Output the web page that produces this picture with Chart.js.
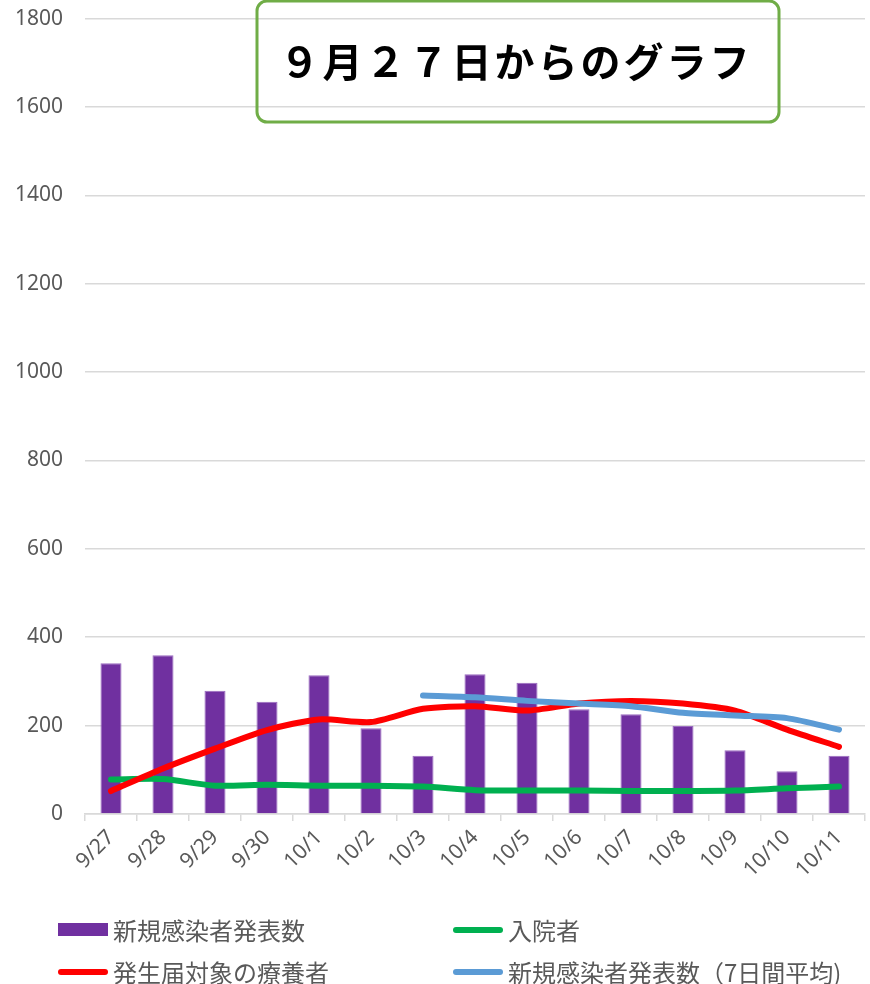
<!DOCTYPE html>
<html lang="ja">
<head>
<meta charset="utf-8">
<title>9月27日からのグラフ</title>
<script src="https://cdn.jsdelivr.net/npm/chart.js@4.4.1/dist/chart.umd.min.js"></script>
<style>
  html, body { margin: 0; padding: 0; background: #fff; }
  #wrap { position: relative; width: 870px; height: 984px; overflow: hidden; }
  #legend { position: absolute; left: 0; top: 0; width: 870px; height: 984px; pointer-events: none;
    font-family: "Noto Sans CJK JP", "Noto Sans", sans-serif; font-size: 24px; color: #595959; }
  .item { position: absolute; display: flex; align-items: center; white-space: nowrap; }
  .swatch { width: 50px; margin-right: 5px; }
</style>
</head>
<body>
<div id="wrap">
  <canvas id="chart" width="870" height="984"></canvas>
  <div id="legend"></div>
</div>
<script>
// chart data
const dates = ['9/27', '9/28', '9/29', '9/30', '10/1', '10/2', '10/3', '10/4', '10/5', '10/6', '10/7', '10/8', '10/9', '10/10', '10/11'];
const newCases = [341, 359, 279, 254, 314, 194, 132, 316, 297, 237, 226, 199, 144, 97, 132];
const hospitalized = [78, 79, 64, 66, 64, 64, 62, 54, 53, 53, 52, 52, 53, 58, 62];
const patients = [52, 103, 148, 190, 214, 208, 238, 244, 234, 250, 256, 250, 234, 191, 152];
const weeklyAvg = [null, null, null, null, null, null, 268, 264, 256, 250, 244, 229, 223, 217, 191];
const yTicks = [0, 200, 400, 600, 800, 1000, 1200, 1400, 1600, 1800];
const titleText = '９月２７日からのグラフ';

// title box drawn over the plot (gridlines show through)
const titleBox = {
  id: 'titleBox',
  afterDraw(chart) {
    const ctx = chart.ctx;
    ctx.save();
    ctx.strokeStyle = '#70AD47';
    ctx.lineWidth = 3;
    ctx.beginPath();
    ctx.roundRect(257, 1, 522, 121, 10);
    ctx.stroke();
    ctx.fillStyle = '#000';
    ctx.font = 'bold 40px "Noto Sans CJK JP", sans-serif';
    ctx.textAlign = 'center';
    ctx.textBaseline = 'middle';
    ctx.letterSpacing = '3px';
    ctx.fillText(titleText, 516, 62);
    ctx.restore();
  }
};

const ctx = document.getElementById('chart').getContext('2d');
const chart = new Chart(ctx, {
  data: {
    labels: dates,
    datasets: [
      {
        type: 'bar',
        label: '新規感染者発表数',
        data: newCases,
        backgroundColor: '#7030A0',
        borderColor: '#9A6BC0',
        borderWidth: 1,
        barPercentage: 0.81,
        categoryPercentage: 0.5,
        order: 4
      },
      {
        type: 'line',
        label: '入院者',
        data: hospitalized,
        borderColor: '#00B050',
        borderWidth: 6,
        pointRadius: 0,
        tension: 0.25,
        borderCapStyle: 'round',
        borderJoinStyle: 'round',
        order: 3
      },
      {
        type: 'line',
        label: '発生届対象の療養者',
        data: patients,
        borderColor: '#FF0000',
        borderWidth: 6,
        pointRadius: 0,
        tension: 0.25,
        borderCapStyle: 'round',
        borderJoinStyle: 'round',
        order: 2
      },
      {
        type: 'line',
        label: '新規感染者発表数（7日間平均)',
        data: weeklyAvg,
        borderColor: '#5B9BD5',
        borderWidth: 6,
        pointRadius: 0,
        tension: 0.25,
        borderCapStyle: 'round',
        borderJoinStyle: 'round',
        order: 1
      }
    ]
  },
  options: {
    responsive: false,
    animation: false,
    layout: { padding: { left: 0, right: 5, top: 18, bottom: 80 } },
    plugins: {
      legend: { display: false },
      tooltip: { enabled: false }
    },
    scales: {
      x: {
        offset: true,
        grid: {
          offset: true,
          drawOnChartArea: false,
          drawTicks: true,
          tickLength: 7,
          color: '#D9D9D9',
          lineWidth: 1.5
        },
        border: { display: true, color: '#D9D9D9', width: 1.5 },
        ticks: {
          color: '#595959',
          font: { family: '"Noto Sans", sans-serif', size: 21 },
          maxRotation: 45,
          minRotation: 45,
          padding: 4
        },
        afterFit(scale) { scale.height = 90; }
      },
      y: {
        min: 0,
        max: 1800,
        afterBuildTicks(scale) { scale.ticks = yTicks.map(v => ({ value: v })); },
        // invisible tick marks push the labels left without adding top padding
        grid: { color: '#D9D9D9', lineWidth: 1.5, drawTicks: true, tickLength: 16, tickColor: 'rgba(0,0,0,0)' },
        border: { display: false },
        ticks: {
          color: '#595959',
          font: { family: '"Noto Sans", sans-serif', size: 21 },
          padding: 6,
          callback: (value) => String(value)
        },
        afterFit(scale) { scale.width = 85; }
      }
    }
  },
  plugins: [titleBox]
});

// legend built from the datasets, laid out in two columns
const legendPos = [
  { left: 58, top: 912 },
  { left: 453, top: 912 },
  { left: 58, top: 954 },
  { left: 453, top: 954 }
];
const legendEl = document.getElementById('legend');
chart.data.datasets.forEach((ds, i) => {
  const item = document.createElement('div');
  item.className = 'item';
  item.style.left = legendPos[i].left + 'px';
  item.style.top = legendPos[i].top + 'px';
  const sw = document.createElement('span');
  sw.className = 'swatch';
  if (ds.type === 'bar') {
    sw.style.height = '13px';
    sw.style.background = ds.backgroundColor;
  } else {
    sw.style.height = '6px';
    sw.style.borderRadius = '3px';
    sw.style.background = ds.borderColor;
  }
  const txt = document.createElement('span');
  txt.textContent = ds.label;
  item.appendChild(sw);
  item.appendChild(txt);
  legendEl.appendChild(item);
});
</script>
</body>
</html>
